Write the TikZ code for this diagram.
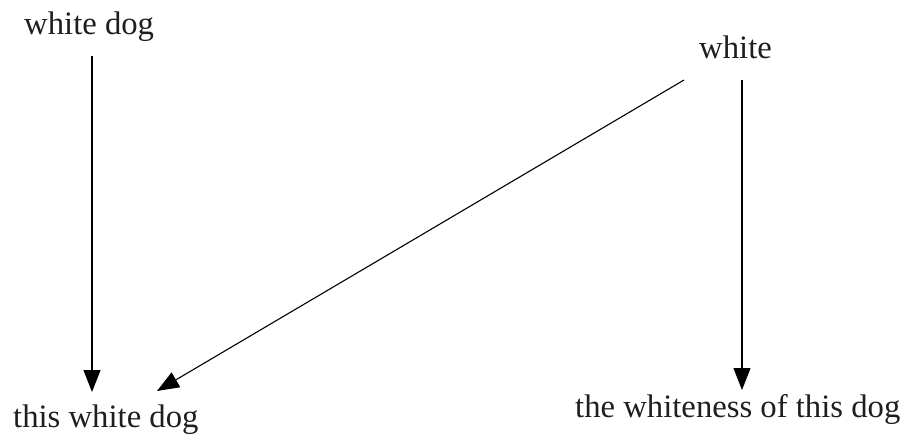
\documentclass[tikz,border=0pt]{standalone}
\usepackage{fontspec}
\setmainfont{Liberation Serif}
\usetikzlibrary{arrows.meta}
\begin{document}
\begin{tikzpicture}[x=1pt,y=1pt,
  lbl/.style={inner sep=0pt,anchor=base west,font=\fontsize{32.7}{38}\selectfont,text=black!88},
  arr/.style={line width=1.1pt,-{Triangle[length=22pt,width=17pt]}}]
\useasboundingbox (0,0) rectangle (909,-435);
\node[lbl] (wd) at (24,-35) {white dog};
\node[lbl] (w) at (699,-59) {white};
\node[lbl] (twd) at (13,-427) {this white dog};
\node[lbl] (tw) at (575,-417) {the whiteness of this dog};
\coordinate (wdout) at (92,-56);
\coordinate (twdin) at (92,-392);
\coordinate (wout1) at (684,-80);
\coordinate (twdin2) at (157,-391);
\coordinate (wout2) at (742,-80);
\coordinate (twin) at (742,-390);
\draw[arr] (wdout) -- (twdin);
\draw[arr] (wout1) -- (twdin2);
\draw[arr] (wout2) -- (twin);
\end{tikzpicture}
\end{document}
